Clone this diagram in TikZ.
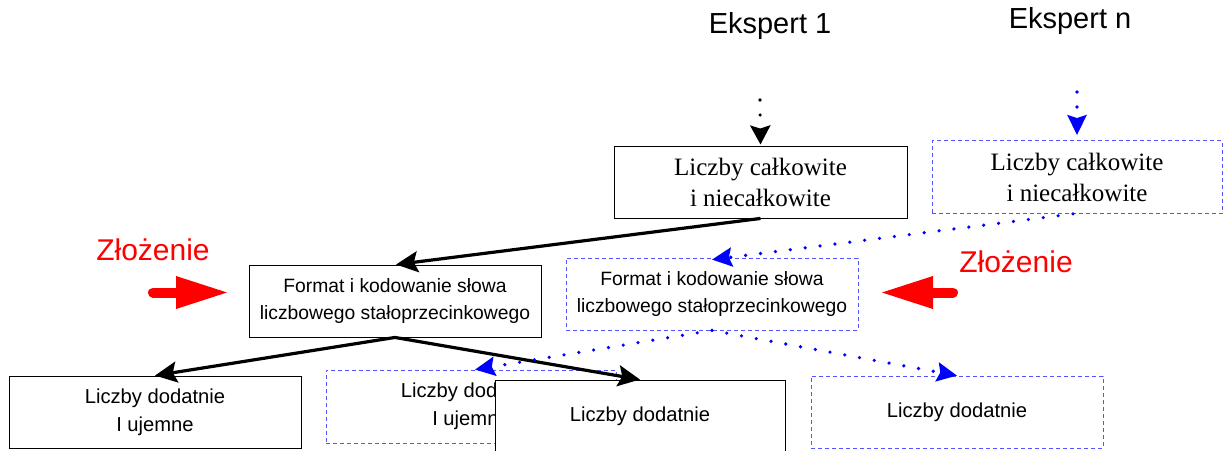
\documentclass[tikz,border=0pt]{standalone}
\usepackage{fontspec}
\setmainfont{Liberation Serif}
\setsansfont{Liberation Sans}
\usetikzlibrary{arrows.meta}
\definecolor{dashblue}{RGB}{85,85,255}
\definecolor{dotblue}{RGB}{0,0,255}
\definecolor{warnred}{RGB}{255,0,0}
\begin{document}
\begin{tikzpicture}[x=1pt,y=-1pt,
  solidbox/.style={draw=black,line width=0.9pt,fill=white,minimum width=292pt,minimum height=72pt,inner sep=0pt,align=center},
  dashbox/.style={draw=dashblue,dash pattern=on 4pt off 3pt,line width=0.8pt,fill=white,minimum width=292pt,minimum height=72pt,inner sep=0pt,align=center},
  serifsize/.style={font=\fontsize{25}{31}\selectfont},
  sanssize/.style={font=\sffamily\fontsize{20.2}{28}\selectfont},
  formatsize/.style={font=\sffamily\fontsize{19.3}{27}\selectfont},
  head/.style={font=\sffamily\fontsize{29}{32}\selectfont},
  redlabel/.style={font=\sffamily\fontsize{30}{33}\selectfont,text=warnred},
  solidarrow/.style={line width=3.2pt,-{Stealth[length=22pt,width=21pt,inset=4pt]}},
  dotarrow/.style={line width=3.6pt,line cap=round,dash pattern=on 0pt off 15pt,dotblue,
    -{Stealth[length=20pt,width=19pt,inset=3pt]}},
  blackdot/.style={line width=3.6pt,line cap=round,dash pattern=on 0pt off 15pt,black,
    -{Stealth[length=19pt,width=20pt,inset=3pt]}},
  bigred/.style={fill=warnred,draw=none}
]
\useasboundingbox (0,0) rectangle (1224,450);

% column titles
\node[head] (e1) at (770,26) {Ekspert 1};
\node[head] (en) at (1070,21) {Ekspert n};

% first expert: integer / non-integer numbers
\node[solidbox,serifsize,minimum width=293pt] (A) at (760.5,182) {Liczby całkowite\\i niecałkowite};
% n-th expert
\node[dashbox,serifsize,minimum width=290pt,minimum height=73pt] (B) at (1077,177) {Liczby całkowite\\i niecałkowite};

% fixed-point word format boxes
\node[solidbox,formatsize] (C) at (395,301) {Format i kodowanie słowa\\liczbowego stałoprzecinkowego};
\node[dashbox,formatsize] (D) at (712,294) {Format i kodowanie słowa\\liczbowego stałoprzecinkowego};

% bottom row
\node[solidbox,sanssize] (E) at (155,412) {Liczby dodatnie\\I ujemne};
\node[dashbox,sanssize,minimum width=290pt,minimum height=73pt] (F) at (471,406.5) {Liczby dodatnie\\I ujemne};
\node[solidbox,sanssize,minimum width=290pt] (G) at (640,416) {Liczby dodatnie};
\node[dashbox,sanssize] (H) at (957,412) {Liczby dodatnie};

% incoming dotted arrows
\coordinate (topA) at (760,100);
\coordinate (topB) at (1077,92);
\draw[blackdot,shorten >=1pt] (topA) -- (A.north);
\draw[dotarrow,shorten >=5pt] (topB) -- (B.north);

% connectors of the first expert
\draw[solidarrow] (A.south) -- ([xshift=1pt]C.north);
\draw[solidarrow] (C.south) -- (E.north);
\draw[solidarrow] (C.south) -- (G.north);

% connectors of the n-th expert
\draw[dotarrow] ([xshift=-4pt]B.south) -- ([yshift=-2pt]D.north);
\draw[dotarrow] (D.south) -- ([xshift=4pt]F.north);
\draw[dotarrow] (D.south) -- (H.north);

% composition labels and arrows
\node[redlabel] (zl) at (153,250) {Złożenie};
\node[redlabel] (zr) at (1016,262) {Złożenie};
\coordinate (la) at (227,292.5);
\coordinate (ra) at (882,292.5);
\draw[warnred,line width=10pt,line cap=round] (153,292.5) -- (180,292.5);
\fill[bigred] (la) -- (176,276) -- (176,309) -- cycle;
\draw[warnred,line width=10pt,line cap=round] (953,292.5) -- (928,292.5);
\fill[bigred] (ra) -- (933,276) -- (933,309) -- cycle;
\end{tikzpicture}
\end{document}
